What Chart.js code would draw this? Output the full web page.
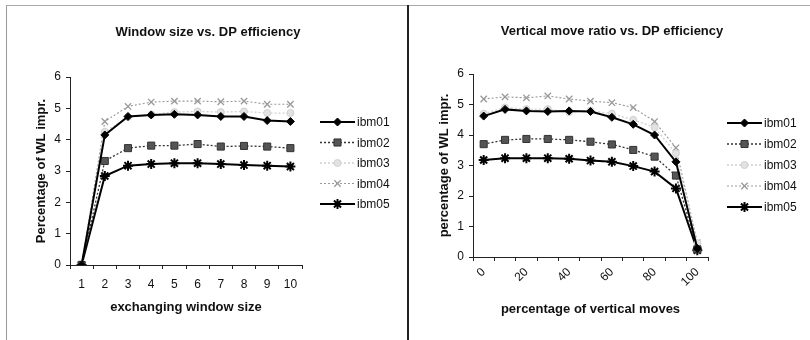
<!DOCTYPE html>
<html lang="en">
<head>
<meta charset="UTF-8">
<title>DP efficiency</title>
<script src="https://cdn.jsdelivr.net/npm/chart.js"></script>
<style>
    body { margin: 0; background: #fff; }
    #page { position: relative; width: 810px; height: 340px; overflow: hidden; }
    .frame { position: absolute; left: 6px; top: 5px; width: 810px; height: 340px;
             border-left: 1px solid #999; border-top: 1px solid #aaa; }
    .divider { position: absolute; left: 407px; top: 5px; width: 2px; height: 340px; background: #222; }
    canvas { position: absolute; top: 0; }
</style>
</head>
<body>
<div id="page">
    <div class="frame"></div>
    <div class="divider"></div>
    <canvas id="left" width="405" height="340" style="left:0"></canvas>
    <canvas id="right" width="405" height="340" style="left:405px"></canvas>
</div>

<script>
    const seriesNames = ["ibm01", "ibm02", "ibm03", "ibm04", "ibm05"];

    // left chart: exchanging window size
    const windowSizes = ["1", "2", "3", "4", "5", "6", "7", "8", "9", "10"];
    const winIbm01 = [0, 4.15, 4.74, 4.79, 4.81, 4.79, 4.74, 4.74, 4.61, 4.58];
    const winIbm02 = [0, 3.32, 3.73, 3.81, 3.81, 3.86, 3.78, 3.80, 3.78, 3.73];
    const winIbm03 = [0.05, 4.25, 4.72, 4.80, 4.88, 4.90, 4.88, 4.90, 4.85, 4.85];
    const winIbm04 = [0, 4.58, 5.06, 5.20, 5.23, 5.23, 5.21, 5.23, 5.13, 5.13];
    const winIbm05 = [0, 2.84, 3.17, 3.22, 3.25, 3.25, 3.22, 3.19, 3.17, 3.14];

    // right chart: percentage of vertical moves
    const verticalMoves = ["0", "10", "20", "30", "40", "50", "60", "70", "80", "90", "100"];
    const vertIbm01 = [4.62, 4.84, 4.79, 4.77, 4.79, 4.77, 4.58, 4.35, 4.00, 3.12, 0.28];
    const vertIbm02 = [3.70, 3.84, 3.87, 3.87, 3.84, 3.78, 3.69, 3.51, 3.29, 2.67, 0.25];
    const vertIbm03 = [4.70, 4.90, 4.85, 4.85, 4.75, 4.80, 4.70, 4.50, 4.25, 3.40, 0.45];
    const vertIbm04 = [5.18, 5.25, 5.22, 5.28, 5.18, 5.11, 5.06, 4.90, 4.44, 3.58, 0.47];
    const vertIbm05 = [3.18, 3.24, 3.24, 3.24, 3.22, 3.16, 3.12, 2.98, 2.80, 2.25, 0.22];

    const yTicks = [0, 1, 2, 3, 4, 5, 6];

    const FONT = "'Liberation Sans', Arial, sans-serif";

    // look of each series, same in both charts
    const styles = [
        { borderColor: "#000", backgroundColor: "#000", pointStyle: "rectRot", pointRadius: 4, borderWidth: 2, borderDash: [] },
        { borderColor: "#333", backgroundColor: "#555", pointStyle: "rect", pointRadius: 5, borderWidth: 1.3, borderDash: [2, 2] },
        { borderColor: "#d0d0d0", backgroundColor: "#e2e2e2", pointStyle: "circle", pointRadius: 3.5, borderWidth: 1.3, borderDash: [2, 2] },
        { borderColor: "#999", backgroundColor: "#999", pointStyle: "crossRot", pointRadius: 4.5, borderWidth: 1.1, borderDash: [2, 2] },
        { borderColor: "#000", backgroundColor: "#000", pointStyle: "star", pointRadius: 5, borderWidth: 2, borderDash: [] }
    ];

    function makeDatasets(seriesList) {
        return seriesList.map((values, i) => ({
            label: seriesNames[i],
            data: values,
            borderColor: styles[i].borderColor,
            backgroundColor: styles[i].backgroundColor,
            borderWidth: styles[i].borderWidth,
            borderDash: styles[i].borderDash,
            pointStyle: styles[i].pointStyle,
            pointRadius: styles[i].pointRadius,
            pointBorderColor: styles[i].borderColor,
            pointBackgroundColor: styles[i].backgroundColor,
            pointBorderWidth: styles[i].pointStyle === "star" ? 2 : (styles[i].pointStyle === "crossRot" ? 1.3 : 1),
            tension: 0
        }));
    }

    // excel style title (centred on the panel) and legend (line with marker)
    const excelDecor = {
        id: "excelDecor",
        afterDraw(chart, args, opts) {
            const ctx = chart.ctx;
            ctx.save();
            ctx.fillStyle = "#111";
            ctx.font = "bold 13px " + FONT;
            ctx.textAlign = "center";
            ctx.textBaseline = "middle";
            ctx.fillText(opts.title, opts.titleX, opts.titleY);

            ctx.textAlign = "left";
            chart.data.datasets.forEach((ds, i) => {
                const y = opts.top + i * opts.step;
                ctx.strokeStyle = ds.borderColor;
                ctx.lineWidth = ds.borderWidth;
                ctx.setLineDash(ds.borderDash);
                ctx.beginPath();
                ctx.moveTo(opts.x, y);
                ctx.lineTo(opts.x + 35, y);
                ctx.stroke();
                ctx.setLineDash([]);
                ctx.fillStyle = ds.pointBackgroundColor;
                ctx.strokeStyle = ds.pointBorderColor;
                ctx.lineWidth = ds.pointBorderWidth;
                Chart.helpers.drawPoint(ctx, {
                    pointStyle: ds.pointStyle, radius: ds.pointRadius, borderWidth: ds.pointBorderWidth, rotation: 0
                }, opts.x + 17.5, y);
                ctx.fillStyle = "#111";
                ctx.font = "12px " + FONT;
                ctx.fillText(ds.label, opts.x + 37, y + 1);
            });
            ctx.restore();
        }
    };

    function makeChart(canvasId, cfg) {
        return new Chart(document.getElementById(canvasId), {
            type: "line",
            data: { labels: cfg.labels, datasets: makeDatasets(cfg.series) },
            plugins: [excelDecor],
            options: {
                responsive: false,
                animation: false,
                layout: { padding: { left: cfg.padLeft, right: cfg.padRight, top: cfg.padTop, bottom: cfg.padBottom } },
                plugins: {
                    legend: { display: false },
                    tooltip: { enabled: false },
                    title: { display: false },
                    excelDecor: cfg.decor
                },
                scales: {
                    x: {
                        type: "category",
                        offset: true,
                        border: { color: "#222", width: 1 },
                        grid: { display: true, drawOnChartArea: false, drawTicks: true, tickLength: 4, color: "#222", offset: true },
                        ticks: {
                            color: "#111",
                            font: { family: FONT, size: 12 },
                            padding: cfg.xTickPad,
                            autoSkip: false,
                            minRotation: cfg.rotation,
                            maxRotation: cfg.rotation,
                            callback: function (value, index) {
                                return index % cfg.labelEvery === 0 ? this.getLabelForValue(value) : "";
                            }
                        },
                        title: {
                            display: true,
                            text: cfg.xTitle,
                            color: "#111",
                            font: { family: FONT, size: 13, weight: "bold" },
                            padding: { top: 0, bottom: 4 }
                        },
                        afterFit: s => { s.height = cfg.xHeight; }
                    },
                    y: {
                        min: 0,
                        max: 6,
                        afterBuildTicks: s => { s.ticks = yTicks.map(v => ({ value: v })); },
                        border: { color: "#222", width: 1 },
                        grid: { display: true, drawOnChartArea: false, drawTicks: true, tickLength: 4, color: "#222" },
                        ticks: { color: "#111", font: { family: FONT, size: 12 }, padding: 5 },
                        title: {
                            display: true,
                            text: cfg.yTitle,
                            color: "#111",
                            font: { family: FONT, size: 13, weight: "bold" },
                            padding: { top: 4, bottom: 0 }
                        },
                        afterFit: s => { s.width = cfg.yWidth; }
                    }
                }
            }
        });
    }

    makeChart("left", {
        labels: windowSizes,
        series: [winIbm01, winIbm02, winIbm03, winIbm04, winIbm05],
        xTitle: "exchanging window size",
        yTitle: "Percentage of WL impr.",
        padLeft: 30, padRight: 103, padTop: 77, padBottom: 21,
        yWidth: 40, xHeight: 54, xTickPad: 8,
        rotation: 0, labelEvery: 1,
        decor: { title: "Window size vs. DP efficiency", titleX: 208, titleY: 32, x: 320, top: 122, step: 20.5 }
    });

    makeChart("right", {
        labels: verticalMoves,
        series: [vertIbm01, vertIbm02, vertIbm03, vertIbm04, vertIbm05],
        xTitle: "percentage of vertical moves",
        yTitle: "percentage of WL impr.",
        padLeft: 28, padRight: 102, padTop: 74, padBottom: 19,
        yWidth: 40, xHeight: 64, xTickPad: 4,
        rotation: 45, labelEvery: 2,
        decor: { title: "Vertical move ratio vs. DP efficiency", titleX: 207, titleY: 31, x: 322, top: 123, step: 21 }
    });
</script>
</body>
</html>
